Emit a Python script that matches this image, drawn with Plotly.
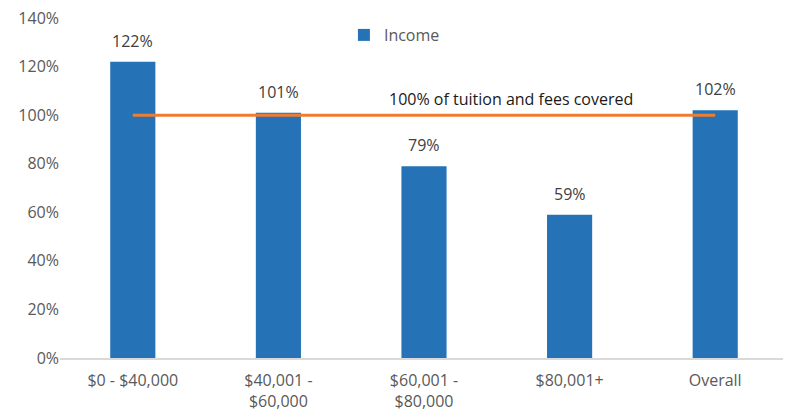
import plotly.graph_objects as go

categories = ["$0 - $40,000", "$40,001 -<br>$60,000", "$60,001 -<br>$80,000", "$80,001+", "Overall"]
income = [122, 101, 79, 59, 102]
threshold = [100, 100, 100, 100, 100]
labels = [f"{v}%" for v in income]

FONT = "Open Sans, Lato, sans-serif"

fig = go.Figure()
fig.add_trace(go.Bar(
    x=categories, y=income, name="Income",
    marker=dict(color="#2573B6", line=dict(width=0)),
    width=0.31,
))
for c, v, t in zip(categories, income, labels):
    fig.add_annotation(x=c, y=v, xref="x", yref="y", yanchor="bottom", yshift=8,
                       text=t, showarrow=False,
                       font=dict(size=16, color="#404040", family=FONT))
fig.add_trace(go.Scatter(
    x=categories, y=threshold, mode="lines", showlegend=False,
    line=dict(color="#ED7D31", width=3),
))
fig.add_annotation(
    x=2.6, y=100, xref="x", yref="y", yanchor="bottom", yshift=3,
    text="100% of tuition and fees covered", showarrow=False,
    font=dict(size=16, color="#1a1a1a", family=FONT),
)
fig.update_layout(
    width=783, height=403,
    margin=dict(l=52, r=3, t=10, b=53),
    paper_bgcolor="white", plot_bgcolor="white",
    font=dict(family=FONT, size=16, color="#595959"),
    legend=dict(x=0.39, y=1.0, xanchor="left", yanchor="top",
                orientation="h", font=dict(size=16, color="#595959"),
                bgcolor="rgba(0,0,0,0)"),
    bargap=0.69,
)
fig.update_xaxes(showline=True, linecolor="#D9D9D9", linewidth=2, automargin=False,
                 showgrid=False, ticks="", ticklabelstandoff=7,
                 tickfont=dict(size=16, color="#595959"))
fig.update_yaxes(range=[0, 140], dtick=20, ticksuffix="%", showgrid=False,
                 zeroline=False, showline=False, automargin=False,
                 ticklabeloverflow="allow",
                 tickfont=dict(size=16, color="#595959"))
fig.write_html("out.html")
